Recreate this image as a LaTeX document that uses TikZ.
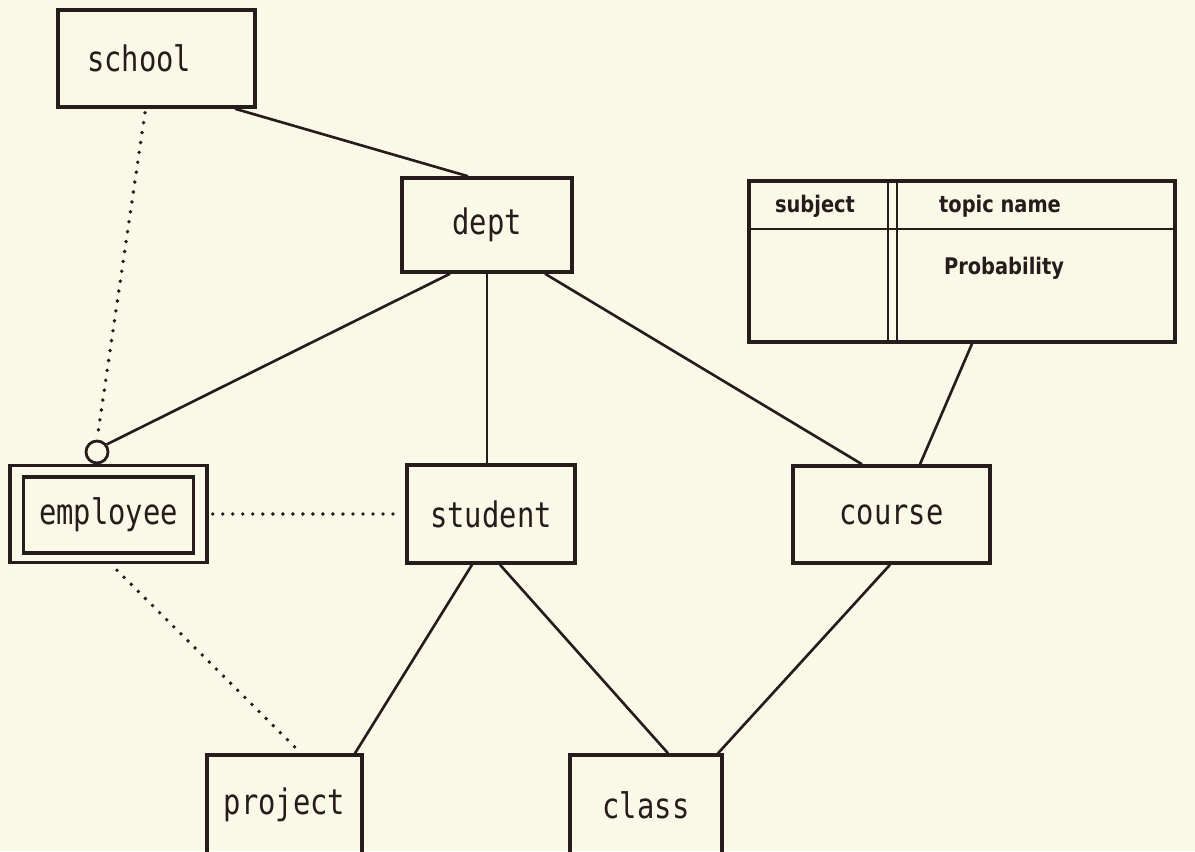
\documentclass[tikz,border=0pt]{standalone}
\usepackage{fontspec}
\newfontfamily\erfont[FakeStretch=0.82]{DejaVu Sans Mono}
\newfontfamily\tabfont[FakeStretch=0.85]{DejaVu Sans}
\definecolor{paper}{RGB}{250,249,232}
\definecolor{ink}{RGB}{38,28,28}
\tikzset{
  entity/.style={draw=ink, line width=2pt, inner sep=0pt, text=ink,
    font=\erfont\fontsize{20}{24}\selectfont},
  cell/.style={inner sep=0pt, text=ink, font=\tabfont\bfseries\fontsize{13}{15}\selectfont},
  link/.style={draw=ink, line width=1.5pt},
  weak/.style={draw=ink, line width=2.2pt, line cap=round, dash pattern=on 0pt off 5.7pt},
}

\begin{document}
\begin{tikzpicture}[x=0.02cm, y=-0.02cm]
\fill[paper] (0,0) rectangle (1195,851);
\useasboundingbox (0,0) rectangle (1195,851);

\node[entity, minimum width=3.94cm, minimum height=1.94cm, text width=2.78cm, align=left] (school) at (156.5,58.5) {school};
\node[entity, minimum width=3.4cm, minimum height=1.88cm] (dept) at (487,225) {dept};
\node[entity, minimum width=3.94cm, minimum height=1.94cm] (employee) at (108.5,514) {};
\node[entity, minimum width=3.4cm, minimum height=1.52cm] (employeein) at (108.5,515) {employee};
\node[entity, minimum width=3.36cm, minimum height=1.96cm] (student) at (491,514) {student};
\node[entity, minimum width=3.94cm, minimum height=1.94cm] (course) at (891.5,514.5) {course};
\node[entity, minimum width=3.1cm, minimum height=2cm] (project) at (284.5,805) {project};
\node[entity, minimum width=3.04cm, minimum height=2cm] (class) at (646,805) {class};
\node[draw=ink, line width=1.6pt, circle, minimum size=0.44cm, inner sep=0pt, fill=paper] (optmark) at (97,452) {};

% subject / topic table
\node[draw=ink, line width=2pt, minimum width=8.52cm, minimum height=3.22cm] (topics) at (962,261.5) {};
\draw[ink, line width=1.6pt] (topics.west |- 0,229) -- (topics.east |- 0,229);
\draw[ink, line width=1.6pt] (topics.north -| 888,0) -- (topics.south -| 888,0);
\draw[ink, line width=1.6pt] (topics.north -| 897,0) -- (topics.south -| 897,0);
\node[cell] (subj) at (815,206) {subject};
\node[cell] (topic) at (1000,206) {topic name};
\node[cell] (prob) at (1004,268) {Probability};

\draw[link] ([shift={(78.5,0)}]school.south) -- ([shift={(-19,0)}]dept.north);
\draw[link] ([shift={(-37,0)}]dept.south) -- (optmark.38);
\draw[link] (dept.south) -- (dept.south |- student.north);
\draw[link] ([shift={(58,0)}]dept.south) -- ([shift={(-29.5,0)}]course.north);
\draw[link] ([shift={(10,0)}]topics.south) -- ([shift={(28.5,0)}]course.north);
\draw[link] ([shift={(-19,0)}]student.south) -- ([shift={(70.5,0)}]project.north);
\draw[link] ([shift={(9,0)}]student.south) -- ([shift={(22,0)}]class.north);
\draw[link] ([shift={(-1.5,0)}]course.south) -- ([shift={(72,0)}]class.north);

\draw[weak] ([shift={(-11.5,4)}]school.south) -- (optmark.north);
\draw[weak] ([shift={(4,0)}]employee.east) -- ([shift={(-4,0)}]student.west);
\draw[weak] ([shift={(8.5,6)}]employee.south) -- ([shift={(12.5,-4)}]project.north);

\end{tikzpicture}
\end{document}
